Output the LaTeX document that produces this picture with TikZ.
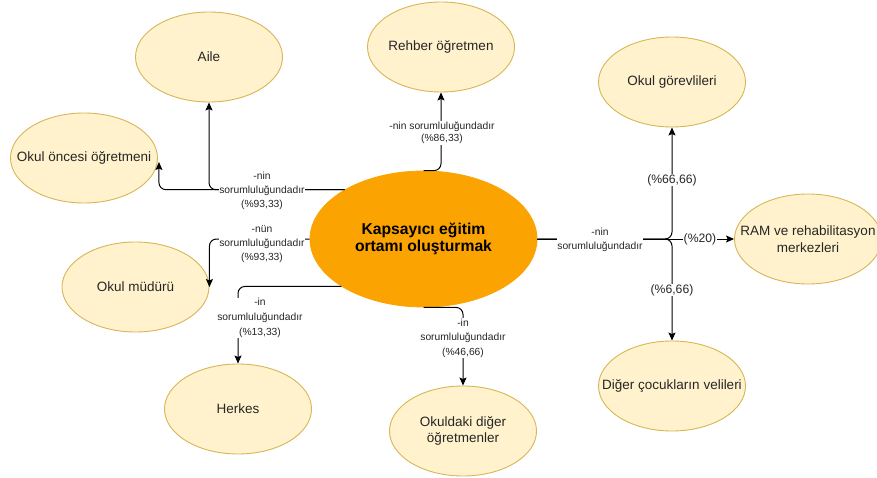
\documentclass[tikz,border=0pt]{standalone}
\usepackage{fontspec}
\setmainfont{Liberation Sans}
\usetikzlibrary{arrows.meta,shapes.geometric}

\definecolor{leaffill}{HTML}{FFF2CC}
\definecolor{leafdraw}{HTML}{D6B656}
\definecolor{hubfill}{HTML}{FBA300}

\tikzset{
  % negative inner sep keeps the ellipse at its fixed size even for long text
  leaf/.style={ellipse, draw=leafdraw, fill=leaffill, line width=0.9pt,
    minimum width=147pt, minimum height=90pt, inner sep=-22pt, align=center,
    font=\fontsize{13.5pt}{16.5pt}\selectfont, text=black!85},
  hub/.style={ellipse, draw=hubfill, fill=hubfill, line width=0.8pt,
    minimum width=227pt, minimum height=136pt, inner sep=0pt, align=center,
    font=\fontsize{15.7pt}{17pt}\selectfont\bfseries},
  link/.style={draw=black, line width=1pt, rounded corners=7pt,
    -{Stealth[length=8pt,width=7pt,inset=1.5pt]}},
  tag/.style={fill=white, inner sep=0.6pt, align=center, text=black!85},
  smalltag/.style={tag, font=\fontsize{10.3pt}{14pt}\selectfont},
  pcttag/.style={tag, font=\fontsize{12.2pt}{14pt}\selectfont},
}

\begin{document}
\begin{tikzpicture}[x=1pt,y=-1pt]
\useasboundingbox (0,0) rectangle (877,478);

% centre and surrounding actors
\node[hub]  (hub) at (423.5,239) {Kapsayıcı eğitim\\ortamı oluşturmak};
\node[leaf] (aile) at (209,57)    {Aile};
\node[leaf] (reh)  at (441,47)    {Rehber öğretmen};
\node[leaf] (gor)  at (672,82)    {Okul görevlileri};
\node[leaf] (onc)  at (84,158)    {Okul öncesi öğretmeni};
\node[leaf] (ram)  at (808,239)   {RAM ve rehabilitasyon\\merkezleri};
\node[leaf] (mud)  at (135.5,287) {Okul müdürü};
\node[leaf] (her)  at (238,409)   {Herkes};
\node[leaf] (okd)  at (463,431)   {Okuldaki diğer\\öğretmenler};
\node[leaf] (vel)  at (672,386)   {Diğer çocukların velileri};

% left side connectors
\draw[link] (hub.148) -| (aile.south);
\draw[link] (hub.148) -| ([shift={(1,4)}]onc.east);
\draw[link] (hub.west) -| (mud.east);
\draw[link] (hub.210.3) -| (her.north);

% top and bottom connectors
\draw[link] (hub.north) -| (reh.south);
\draw[link] (hub.south) -| (okd.north);

% right side fan-out
\draw[link] (hub.east) -| (gor.south);
\draw[link] (hub.east) -| (vel.north);
\draw[link] (hub.east) -- (ram.west);

% connector labels
\node[smalltag] (t1) at (262,191) {-nin\\sorumluluğundadır\\(\%93,33)};
\node[smalltag] (t2) at (262,244) {-nün\\sorumluluğundadır\\(\%93,33)};
\node[smalltag, font=\fontsize{10.3pt}{15pt}\selectfont] (t3) at (260,318) {-in\\sorumluluğundadır\\(\%13,33)};
\node[smalltag, font=\fontsize{10.3pt}{12.5pt}\selectfont] (t4) at (442,133) {-nin sorumluluğundadır\\(\%86,33)};
\node[smalltag, font=\fontsize{10.3pt}{14.5pt}\selectfont] (t5) at (463,338) {-in\\sorumluluğundadır\\(\%46,66)};
\node[smalltag] (t6) at (600,240) {-nin\\sorumluluğundadır};
\node[pcttag] (p1) at (700,239) {(\%20)};
\node[pcttag] (p2) at (672,180) {(\%66,66)};
\node[pcttag] (p3) at (672,290) {(\%6,66)};
\end{tikzpicture}
\end{document}
